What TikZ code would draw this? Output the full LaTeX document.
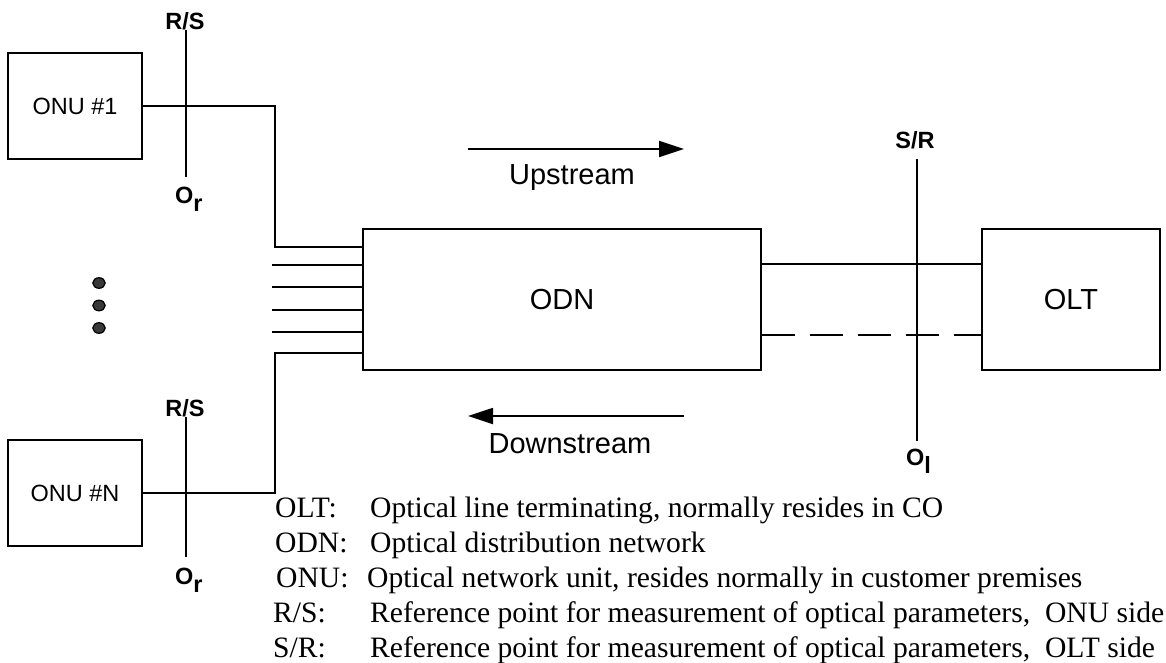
\documentclass[tikz,border=0pt]{standalone}
\usepackage{fontspec}
\setmainfont{Liberation Sans}
\newfontfamily\legendfont{Liberation Serif}
\usetikzlibrary{arrows.meta}
\begin{document}
\begin{tikzpicture}[x=1pt,y=-1pt,
  box/.style={draw,line width=1.8pt,inner sep=0pt,font=\fontsize{29}{34}\selectfont},
  onubox/.style={box,minimum width=134pt,minimum height=106pt,font=\fontsize{23.5}{27}\selectfont},
  wire/.style={line width=1.8pt},
  refline/.style={line width=1.8pt},
  reflab/.style={inner sep=0pt,font=\fontsize{23.5}{27}\selectfont\bfseries},
  flow/.style={line width=1.8pt,-{Triangle[length=25pt,width=16pt]}},
  lbl/.style={inner sep=0pt,anchor=base,font=\fontsize{29}{34}\selectfont},
  leg/.style={inner sep=0pt,anchor=base west,font=\legendfont\fontsize{29.6}{34}\selectfont},
  dot/.style={fill=black!78,draw=black,line width=1.2pt}
]
\useasboundingbox (0,0) rectangle (1166,663);

% boxes
\node[onubox] (onu1) at (75,106) {ONU \#1};
\node[onubox] (onuN) at (75,493) {ONU \#N};
\node[box,minimum width=398pt,minimum height=141pt] (odn) at (562,299.5) {ODN};
\node[box,minimum width=178pt,minimum height=141pt] (olt) at (1071,299.5) {OLT};

% fibres ONU -> ODN
\coordinate (c1) at (275,106);
\coordinate (c2) at (275,493);
\coordinate (y1) at (0,247);
\coordinate (y6) at (0,353);
\draw[wire] (onu1.east) -- (c1) |- (odn.west |- y1);
\draw[wire] (onuN.east) -- (c2) |- (odn.west |- y6);
\foreach \n/\y in {2/265,3/287.3,4/309.7,5/332.3}{
  \coordinate (s\n) at (272,\y);
  \draw[wire] (s\n) -- (odn.west |- s\n);
}

% ODN -> OLT
\coordinate (u) at (0,264);
\coordinate (d) at (0,335);
\draw[wire] (odn.east |- u) -- (olt.west |- u);
\draw[wire,dash pattern=on 33pt off 15pt] (odn.east |- d) -- (olt.west |- d);

% dots
\filldraw[dot] (99,283) ellipse [x radius=6.2pt,y radius=5.3pt];
\filldraw[dot] (99,305.5) ellipse [x radius=6.2pt,y radius=5.3pt];
\filldraw[dot] (99,328) ellipse [x radius=6.2pt,y radius=5.3pt];

% reference points ONU side (top)
\node[reflab] (rs1) at (185,21) {R/S};
\node[reflab,anchor=base west] (or1) at (175,204) {O\raisebox{-8pt}{r}};
\coordinate (rs1a) at (186,30);
\coordinate (rs1b) at (186,177);
\draw[refline] (rs1a) -- (rs1b);

% reference points ONU side (bottom)
\node[reflab] (rs2) at (185,408) {R/S};
\node[reflab,anchor=base west] (or2) at (175,584) {O\raisebox{-8pt}{r}};
\coordinate (rs2a) at (186,417);
\coordinate (rs2b) at (186,557);
\draw[refline] (rs2a) -- (rs2b);

% reference point OLT side
\node[reflab] (sr) at (915,140) {S/R};
\node[reflab,anchor=base west] (ol) at (906,465) {O\raisebox{-8pt}{l}};
\coordinate (sra) at (917,159);
\coordinate (srb) at (917,441);
\draw[refline] (sra) -- (srb);

% flow arrows
\coordinate (up1) at (468,149);
\coordinate (up2) at (684,149);
\draw[flow] (up1) -- (up2);
\node[lbl] (uplab) at (572,185) {Upstream};
\coordinate (dn1) at (684,416);
\coordinate (dn2) at (468,416);
\draw[flow] (dn1) -- (dn2);
\node[lbl] (dnlab) at (570,453) {Downstream};

% legend
\node[leg] (k1) at (275,517) {OLT:};
\node[leg] (v1) at (370,517) {Optical line terminating, normally resides in CO};
\node[leg] (k2) at (275,552) {ODN:};
\node[leg] (v2) at (370,552) {Optical distribution network};
\node[leg] (k3) at (276,587) {ONU:};
\node[leg] (v3) at (367,587) {Optical network unit, resides normally in customer premises};
\node[leg] (k4) at (273,622) {R/S:};
\node[leg] (v4) at (370,622) {Reference point for measurement of optical parameters,\ \ ONU side};
\node[leg] (k5) at (273,657) {S/R:};
\node[leg] (v5) at (370,657) {Reference point for measurement of optical parameters,\ \ OLT side};
\end{tikzpicture}
\end{document}
